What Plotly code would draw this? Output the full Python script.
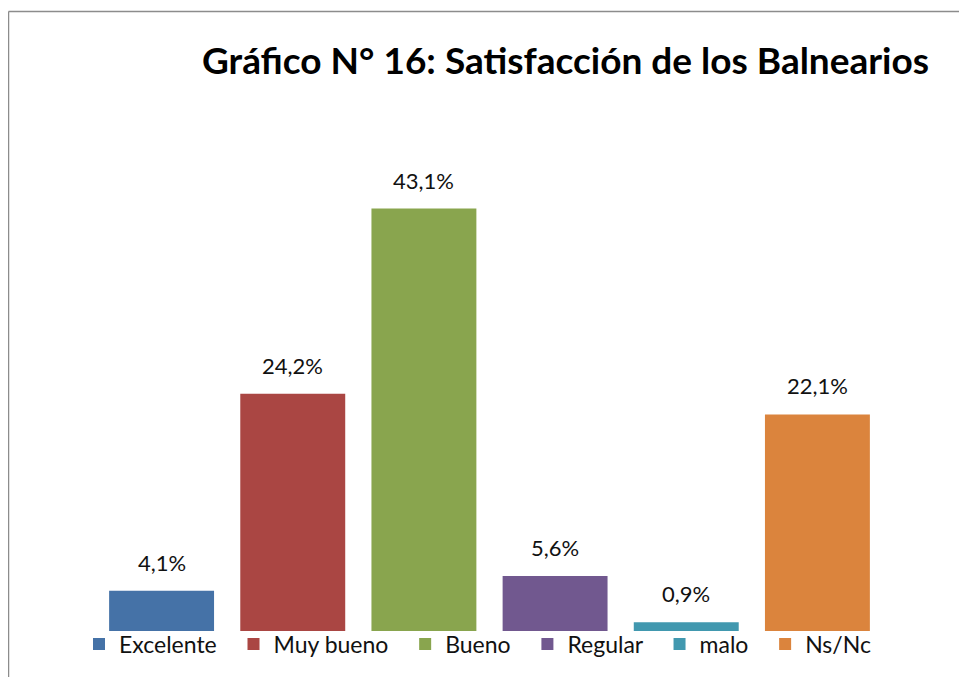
import plotly.graph_objects as go

categories = ["Excelente", "Muy bueno", "Bueno", "Regular", "malo", "Ns/Nc"]
values = [4.1, 24.2, 43.1, 5.6, 0.9, 22.1]
colors = ["#4572A7", "#AA4643", "#89A54E", "#71588F", "#4198AF", "#DB843D"]
title_text = "Gráfico N° 16: Satisfacción de los Balnearios"

FONT = "Lato, 'Open Sans', sans-serif"

# The page places the figure at an 8px body offset; work in screen coords.
OFF = 8
SW, SH = 967, 677
W, H = SW - OFF, SH - OFF
# plot area in screen px
PX0, PX1 = 96, 883
PY0, PY1 = 141, 633
L, R, T, B = PX0 - OFF, SW - PX1, PY0 - OFF, SH - PY1
pw, ph = PX1 - PX0, PY1 - PY0

def sx(px):
    return (px - PX0) / pw

def sy(py):
    return (PY1 - py) / ph

PAD = "\u00a0\u00a0"

fig = go.Figure()
for cat, val, col in zip(categories, values, colors):
    fig.add_trace(go.Bar(
        x=[cat], y=[val], name=cat + PAD,
        marker=dict(color=col, line=dict(width=0)),
        width=0.8,
        hoverinfo="skip",
    ))
    fig.add_annotation(
        x=cat, y=val, xref="x", yref="y",
        text=f"{val:.1f}%".replace(".", ","),
        showarrow=False, yanchor="bottom", yshift=13,
        font=dict(family=FONT, size=22, color="#111111"),
    )

fig.add_shape(type="line", xref="paper", yref="paper",
              x0=sx(8.5), x1=sx(8.5), y0=sy(11), y1=sy(700),
              line=dict(color="#8c8c8c", width=1.5))
fig.add_shape(type="line", xref="paper", yref="paper",
              x0=sx(8.5), x1=sx(1000), y0=sy(11), y1=sy(11),
              line=dict(color="#8c8c8c", width=1.5))

fig.update_layout(
    width=W, height=H,
    margin=dict(l=L, r=R, t=T, b=B, pad=0),
    paper_bgcolor="white", plot_bgcolor="white",
    barmode="overlay",
    separators=",.",
    title=dict(text=f"<b>{title_text}</b>", x=(565.5 - OFF) / W, xanchor="center",
               y=1 - (61 - OFF) / H, yanchor="middle",
               font=dict(family=FONT, size=37, color="#000000")),
    xaxis=dict(visible=False, categoryorder="array", categoryarray=categories),
    yaxis=dict(visible=False, range=[0, 50]),
    showlegend=True,
    legend=dict(orientation="h", x=sx(79), xanchor="left",
                y=sy(646), yanchor="middle",
                font=dict(family=FONT, size=23, color="#111111"),
                bgcolor="rgba(0,0,0,0)", itemclick=False, itemdoubleclick=False,
                traceorder="normal"),
    font=dict(family=FONT),
)

fig.write_html("out.html")
